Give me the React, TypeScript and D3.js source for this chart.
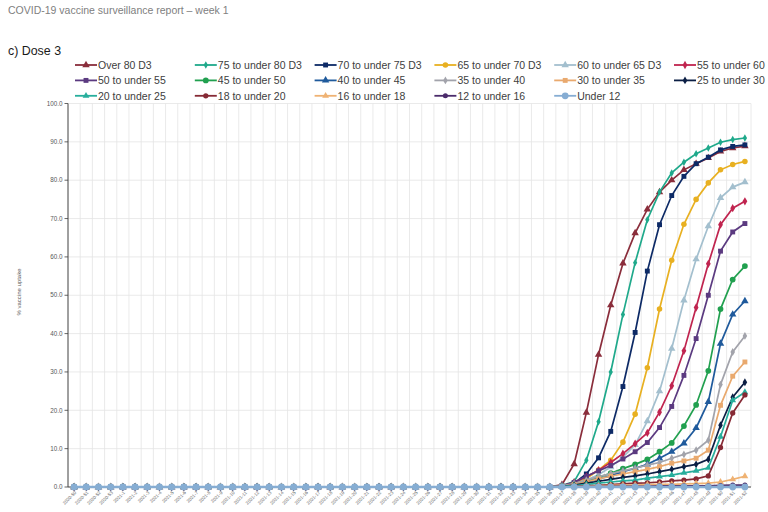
import * as d3 from 'd3';

// ISO weeks on the x axis
const weeks = [
  '2020-50', '2020-51', '2020-52', '2020-53',
  '2021-1', '2021-2', '2021-3', '2021-4', '2021-5', '2021-6', '2021-7', '2021-8', '2021-9', '2021-10',
  '2021-11', '2021-12', '2021-13', '2021-14', '2021-15', '2021-16', '2021-17', '2021-18', '2021-19', '2021-20',
  '2021-21', '2021-22', '2021-23', '2021-24', '2021-25', '2021-26', '2021-27', '2021-28', '2021-29', '2021-30',
  '2021-31', '2021-32', '2021-33', '2021-34', '2021-35', '2021-36', '2021-37', '2021-38', '2021-39', '2021-40',
  '2021-41', '2021-42', '2021-43', '2021-44', '2021-45', '2021-46', '2021-47', '2021-48', '2021-49', '2021-50',
  '2021-51', '2021-52',
];

const yTicks = [0, 10, 20, 30, 40, 50, 60, 70, 80, 90, 100];

// % uptake of dose 3 per week (first 40 weeks are zero)
const over80 = [0,0,0,0,0,0,0,0,0,0,0,0,0,0,0,0,0,0,0,0,0,0,0,0,0,0,0,0,0,0,0,0,0,0,0,0,0,0,0,0, 0.6, 6.0, 19.4, 34.5, 47.4, 58.3, 66.2, 72.4, 76.9, 80.0, 82.7, 84.3, 85.8, 87.5, 88.4, 88.9];
const age75to80 = [0,0,0,0,0,0,0,0,0,0,0,0,0,0,0,0,0,0,0,0,0,0,0,0,0,0,0,0,0,0,0,0,0,0,0,0,0,0,0,0, 0.4, 1.4, 7.0, 17.0, 30.0, 45.0, 58.5, 69.7, 76.9, 81.9, 84.7, 86.9, 88.4, 89.9, 90.6, 91.0];
const age70to75 = [0,0,0,0,0,0,0,0,0,0,0,0,0,0,0,0,0,0,0,0,0,0,0,0,0,0,0,0,0,0,0,0,0,0,0,0,0,0,0,0, 0.3, 1.0, 3.4, 7.6, 14.5, 26.2, 40.3, 56.3, 68.4, 76.0, 81.0, 84.3, 86.0, 87.9, 88.8, 89.2];
const age65to70 = [0,0,0,0,0,0,0,0,0,0,0,0,0,0,0,0,0,0,0,0,0,0,0,0,0,0,0,0,0,0,0,0,0,0,0,0,0,0,0,0, 0.3, 0.9, 2.2, 4.4, 7.0, 11.7, 19.0, 31.1, 46.4, 59.1, 68.5, 75.0, 79.3, 82.7, 84.1, 84.9];
const age60to65 = [0,0,0,0,0,0,0,0,0,0,0,0,0,0,0,0,0,0,0,0,0,0,0,0,0,0,0,0,0,0,0,0,0,0,0,0,0,0,0,0, 0.3, 0.8, 1.8, 3.2, 5.2, 7.8, 11.0, 17.2, 25.0, 36.1, 48.7, 59.4, 68.0, 75.4, 78.2, 79.5];
const age55to60 = [0,0,0,0,0,0,0,0,0,0,0,0,0,0,0,0,0,0,0,0,0,0,0,0,0,0,0,0,0,0,0,0,0,0,0,0,0,0,0,0, 0.3, 1.2, 2.7, 4.4, 6.4, 8.7, 11.3, 14.1, 19.5, 26.4, 35.5, 46.8, 58.2, 68.4, 72.7, 74.5];
const age50to55 = [0,0,0,0,0,0,0,0,0,0,0,0,0,0,0,0,0,0,0,0,0,0,0,0,0,0,0,0,0,0,0,0,0,0,0,0,0,0,0,0, 0.3, 1.2, 2.8, 4.2, 5.6, 7.3, 9.2, 11.6, 15.5, 21.0, 29.1, 38.7, 50.0, 61.5, 66.5, 68.7];
const age45to50 = [0,0,0,0,0,0,0,0,0,0,0,0,0,0,0,0,0,0,0,0,0,0,0,0,0,0,0,0,0,0,0,0,0,0,0,0,0,0,0,0, 0.2, 0.7, 1.5, 2.5, 3.6, 4.8, 5.9, 7.2, 9.2, 11.5, 15.9, 21.4, 30.3, 46.4, 54.1, 57.6];
const age40to45 = [0,0,0,0,0,0,0,0,0,0,0,0,0,0,0,0,0,0,0,0,0,0,0,0,0,0,0,0,0,0,0,0,0,0,0,0,0,0,0,0, 0.2, 0.5, 1.3, 2.1, 3.0, 4.0, 4.9, 5.9, 7.5, 9.2, 11.4, 15.4, 22.2, 37.4, 45.0, 48.5];
const age35to40 = [0,0,0,0,0,0,0,0,0,0,0,0,0,0,0,0,0,0,0,0,0,0,0,0,0,0,0,0,0,0,0,0,0,0,0,0,0,0,0,0, 0.3, 0.9, 1.8, 2.7, 3.5, 4.2, 4.9, 5.7, 6.4, 7.5, 8.5, 9.6, 12.2, 26.7, 35.2, 39.4];
const age30to35 = [0,0,0,0,0,0,0,0,0,0,0,0,0,0,0,0,0,0,0,0,0,0,0,0,0,0,0,0,0,0,0,0,0,0,0,0,0,0,0,0, 0.2, 0.6, 1.3, 2.1, 2.8, 3.4, 4.0, 4.6, 5.3, 6.2, 6.8, 7.5, 9.6, 21.3, 28.9, 32.6];
const age25to30 = [0,0,0,0,0,0,0,0,0,0,0,0,0,0,0,0,0,0,0,0,0,0,0,0,0,0,0,0,0,0,0,0,0,0,0,0,0,0,0,0, 0.2, 0.5, 1.0, 1.5, 2.0, 2.5, 2.9, 3.4, 4.0, 4.6, 5.3, 5.9, 7.2, 16.1, 23.4, 27.3];
const age20to25 = [0,0,0,0,0,0,0,0,0,0,0,0,0,0,0,0,0,0,0,0,0,0,0,0,0,0,0,0,0,0,0,0,0,0,0,0,0,0,0,0, 0.1, 0.3, 0.7, 1.0, 1.3, 1.6, 1.8, 2.3, 2.7, 3.1, 3.7, 4.2, 5.0, 13.1, 22.6, 24.7];
const age18to20 = [0,0,0,0,0,0,0,0,0,0,0,0,0,0,0,0,0,0,0,0,0,0,0,0,0,0,0,0,0,0,0,0,0,0,0,0,0,0,0,0, 0.0, 0.1, 0.3, 0.4, 0.6, 0.8, 1.0, 1.1, 1.3, 1.6, 1.8, 2.1, 2.9, 10.3, 19.3, 24.0];
const age16to18 = [0,0,0,0,0,0,0,0,0,0,0,0,0,0,0,0,0,0,0,0,0,0,0,0,0,0,0,0,0,0,0,0,0,0,0,0,0,0,0,0, 0.0, 0.1, 0.2, 0.3, 0.4, 0.5, 0.5, 0.6, 0.7, 0.7, 0.8, 0.9, 1.0, 1.3, 2.0, 2.8];
const age12to16 = [0,0,0,0,0,0,0,0,0,0,0,0,0,0,0,0,0,0,0,0,0,0,0,0,0,0,0,0,0,0,0,0,0,0,0,0,0,0,0,0, 0.0, 0.1, 0.1, 0.1, 0.2, 0.2, 0.2, 0.2, 0.3, 0.3, 0.3, 0.3, 0.3, 0.4, 0.5, 0.5];
const under12 = [0,0,0,0,0,0,0,0,0,0,0,0,0,0,0,0,0,0,0,0,0,0,0,0,0,0,0,0,0,0,0,0,0,0,0,0,0,0,0,0, 0, 0, 0, 0, 0, 0, 0, 0, 0, 0, 0, 0, 0, 0, 0, 0];

type Series = {
  name: string;
  values: number[];
  color: string;
  symbol: d3.SymbolType;
  size: number;
};

const series: Series[] = [
  { name: 'Over 80 D3', values: over80, color: '#8a2d3b', symbol: d3.symbolTriangle, size: 24 },
  { name: '75 to under 80 D3', values: age75to80, color: '#1fa98b', symbol: d3.symbolDiamond, size: 16 },
  { name: '70 to under 75 D3', values: age70to75, color: '#0d2a66', symbol: d3.symbolSquare, size: 24 },
  { name: '65 to under 70 D3', values: age65to70, color: '#e8b021', symbol: d3.symbolCircle, size: 24 },
  { name: '60 to under 65 D3', values: age60to65, color: '#a3bfce', symbol: d3.symbolTriangle, size: 24 },
  { name: '55 to under 60', values: age55to60, color: '#c0244f', symbol: d3.symbolDiamond, size: 20 },
  { name: '50 to under 55', values: age50to55, color: '#5b3a80', symbol: d3.symbolSquare, size: 24 },
  { name: '45 to under 50', values: age45to50, color: '#21a04f', symbol: d3.symbolCircle, size: 26 },
  { name: '40 to under 45', values: age40to45, color: '#1f5a9c', symbol: d3.symbolTriangle, size: 24 },
  { name: '35 to under 40', values: age35to40, color: '#a2a3ab', symbol: d3.symbolDiamond, size: 18 },
  { name: '30 to under 35', values: age30to35, color: '#e9a96e', symbol: d3.symbolSquare, size: 24 },
  { name: '25 to under 30', values: age25to30, color: '#0b1e44', symbol: d3.symbolDiamond, size: 18 },
  { name: '20 to under 25', values: age20to25, color: '#27ae9c', symbol: d3.symbolTriangle, size: 20 },
  { name: '18 to under 20', values: age18to20, color: '#862a35', symbol: d3.symbolCircle, size: 22 },
  { name: '16 to under 18', values: age16to18, color: '#efb273', symbol: d3.symbolTriangle, size: 20 },
  { name: '12 to under 16', values: age12to16, color: '#4b2b6b', symbol: d3.symbolCircle, size: 20 },
  { name: 'Under 12', values: under12, color: '#86add3', symbol: d3.symbolCircle, size: 36 },
];

const W = 768;
const H = 512;
const FONT = '"Liberation Sans", Arial, sans-serif';

const x = d3.scaleBand<string>().domain(weeks).range([68, 751]);
const y = d3.scaleLinear().domain([0, 100]).range([487, 103.5]);
const cx = (i: number) => (x(weeks[i]) ?? 0) + x.bandwidth() / 2;

const lineGen = d3
  .line<number>()
  .x((_, i) => cx(i))
  .y((d) => y(d));

const legendCol = d3.scaleLinear().domain([0, 1]).range([75, 194.8]);
const legendRow = d3.scaleLinear().domain([0, 1]).range([65, 80.4]);

export default function App() {
  const [x0, x1] = x.range();
  return (
    <div style={{ position: 'fixed', left: 0, top: 0, width: W, height: H, background: '#fff' }}>
      <svg width={W} height={H} style={{ display: 'block', fontFamily: FONT }}>
        <text x={8} y={14} fontSize={10.5} fill="#808080">
          COVID-19 vaccine surveillance report – week 1
        </text>
        <text x={8} y={55} fontSize={12.4} fill="#1a1a1a">
          c) Dose 3
        </text>

        {/* legend */}
        {series.map((s, i) => {
          const lx = legendCol(i % 6);
          const ly = legendRow(Math.floor(i / 6));
          return (
            <g key={s.name}>
              <line x1={lx} x2={lx + 22} y1={ly} y2={ly} stroke={s.color} strokeWidth={1.8} />
              <path
                d={d3.symbol().type(s.symbol).size(s.size)() ?? ''}
                transform={`translate(${lx + 11},${ly})`}
                fill={s.color}
              />
              <text x={lx + 23} y={ly} dy="0.36em" fontSize={10.5} fill="#404040">
                {s.name}
              </text>
            </g>
          );
        })}

        {/* grid */}
        {yTicks.slice(1).map((t) => (
          <line key={`h${t}`} x1={x0} x2={x1} y1={y(t)} y2={y(t)} stroke="#e4e4e4" strokeWidth={0.8} />
        ))}
        {weeks.map((w, i) =>
          i === 0 ? null : (
            <line key={`v${w}`} x1={x(w)} x2={x(w)} y1={y(100)} y2={y(0)} stroke="#e4e4e4" strokeWidth={0.8} />
          )
        )}
        <line x1={x1} x2={x1} y1={y(100)} y2={y(0)} stroke="#e4e4e4" strokeWidth={0.8} />

        {/* y axis */}
        <line x1={x0} x2={x0} y1={y(100)} y2={y(0)} stroke="#404040" strokeWidth={1} />
        {yTicks.map((t) => (
          <g key={`yt${t}`}>
            <line x1={x0 - 3.5} x2={x0} y1={y(t)} y2={y(t)} stroke="#404040" strokeWidth={0.8} />
            <text x={x0 - 5.5} y={y(t)} dy="0.35em" textAnchor="end" fontSize={6.3} fill="#595959">
              {t.toFixed(1)}
            </text>
          </g>
        ))}
        <text
          transform={`translate(21,${292}) rotate(-90)`}
          textAnchor="middle"
          fontSize={6}
          fill="#595959"
        >
          % vaccine uptake
        </text>

        {/* x axis */}
        <line x1={x0} x2={x1} y1={y(0)} y2={y(0)} stroke="#404040" strokeWidth={1} />
        {weeks.map((w, i) => (
          <text
            key={`xl${w}`}
            transform={`translate(${cx(i) + 2.5},${y(0) + 6}) rotate(-45)`}
            textAnchor="end"
            fontSize={4.6}
            fill="#666"
          >
            {w}
          </text>
        ))}

        {/* series */}
        {series.map((s) => (
          <g key={`s${s.name}`}>
            <path
              d={lineGen(s.values) ?? ''}
              fill="none"
              stroke={s.color}
              strokeWidth={s.name === 'Under 12' ? 2.4 : 1.7}
            />
            {s.values.map((v, i) => (
              <path
                key={i}
                d={d3.symbol().type(s.symbol).size(s.size)() ?? ''}
                transform={`translate(${cx(i)},${y(v)})`}
                fill={s.color}
              />
            ))}
          </g>
        ))}
      </svg>
    </div>
  );
}
